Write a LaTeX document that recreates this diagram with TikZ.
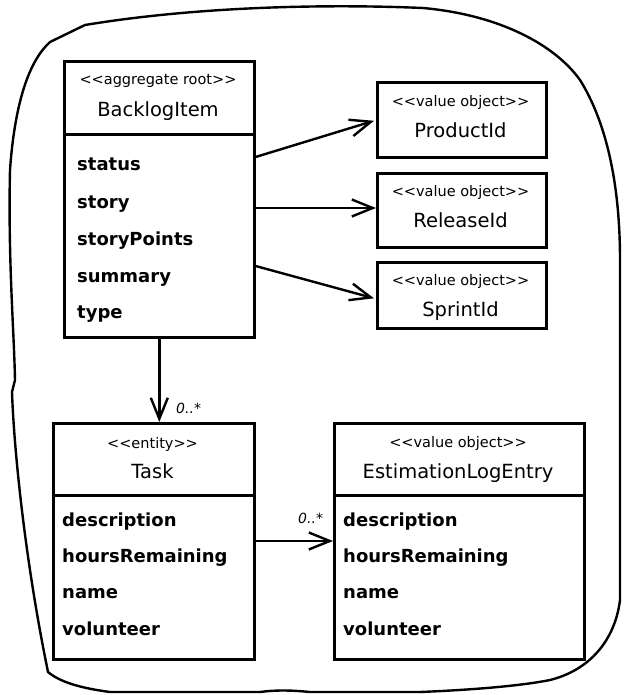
\documentclass[tikz,border=0pt]{standalone}
\usepackage{fontspec}
\setmainfont{DejaVu Sans}
\usetikzlibrary{arrows.meta,calc}
\newcommand\stLL{<\kern0pt<}
\newcommand\stGG{>\kern0pt>}
\newcommand\stfont{\fontsize{14.5}{16}\selectfont}
\newcommand\cnfont{\fontsize{19.5}{22}\selectfont}
\newcommand\atfont{\bfseries\fontsize{18}{20}\selectfont}
\newcommand\mufont{\itshape\fontsize{14}{16}\selectfont}
\begin{document}
\begin{tikzpicture}[x=1pt,y=-1pt,
  box/.style={draw, line width=2.6pt, inner sep=0pt, anchor=north west},
  arr/.style={line width=2.4pt, -{Straight Barb[length=21pt,width=17pt,line width=2.4pt]}},
  stereo/.style={font=\stfont, anchor=base, inner sep=0pt},
  cname/.style={font=\cnfont, anchor=base, inner sep=0pt},
  attr/.style={font=\atfont, anchor=base west, inner sep=0pt},
  mult/.style={font=\mufont, anchor=base west, inner sep=0pt},
  blob/.style={draw, line width=2.4pt, line join=round}]
\useasboundingbox (0,0) rectangle (623,695);
% outer boundary
\draw[blob] (48,672) .. controls (60,682) and (80,688) .. (110,692)
  -- (260,692) .. controls (275,690) and (290,690) .. (310,692)
  -- (420,692) .. controls (470,690) and (520,686) .. (550,680)
  .. controls (590,670) and (615,640) .. (620,600)
  -- (620,260) .. controls (620,180) and (605,120) .. (580,80)
  .. controls (555,45) and (500,15) .. (423,8)
  .. controls (330,4) and (200,6) .. (85,25)
  -- (50,42) .. controls (30,60) and (15,100) .. (10,170)
  .. controls (8,260) and (14,330) .. (15,380)
  -- (12,392) .. controls (14,450) and (25,560) .. (48,672) -- cycle;
% BacklogItem
\node[box, minimum width=190pt, minimum height=73pt] (bih) at (63,60) {};
\node[box, minimum width=190pt, minimum height=203pt] (bib) at (63,133) {};
\node[stereo] (bist) at (158,85) {\stLL aggregate root\stGG};
\node[cname] (bin) at (158,117) {BacklogItem};
\node[attr] (bia1) at (77,171) {status};
\node[attr] (bia2) at (77,208) {story};
\node[attr] (bia3) at (77,245) {storyPoints};
\node[attr] (bia4) at (77,282) {summary};
\node[attr] (bia5) at (77,318) {type};
% value objects
\node[box, minimum width=169pt, minimum height=75pt] (pid) at (376,81) {};
\node[stereo] (pidst) at (460.5,107) {\stLL value object\stGG};
\node[cname] (pidn) at (460.5,138) {ProductId};
\node[box, minimum width=169pt, minimum height=74pt] (rid) at (376,172) {};
\node[stereo] (ridst) at (460.5,196) {\stLL value object\stGG};
\node[cname] (ridn) at (460.5,227) {ReleaseId};
\node[box, minimum width=169pt, minimum height=66pt] (sid) at (376,261) {};
\node[stereo] (sidst) at (460.5,285) {\stLL value object\stGG};
\node[cname] (sidn) at (460.5,316) {SprintId};
% Task
\node[box, minimum width=201pt, minimum height=72pt] (th) at (52,422) {};
\node[box, minimum width=201pt, minimum height=164pt] (tb) at (52,494) {};
\node[stereo] (tst) at (152.5,448) {\stLL entity\stGG};
\node[cname] (tn) at (152.5,478) {Task};
\node[attr] (ta1) at (62,526) {description};
\node[attr] (ta2) at (62,562) {hoursRemaining};
\node[attr] (ta3) at (62,598) {name};
\node[attr] (ta4) at (62,635) {volunteer};
% EstimationLogEntry
\node[box, minimum width=250pt, minimum height=72pt] (eh) at (333,422) {};
\node[box, minimum width=250pt, minimum height=164pt] (eb) at (333,494) {};
\node[stereo] (est) at (458,447) {\stLL value object\stGG};
\node[cname] (en) at (458,478) {EstimationLogEntry};
\node[attr] (ea1) at (343,526) {description};
\node[attr] (ea2) at (343,562) {hoursRemaining};
\node[attr] (ea3) at (343,598) {name};
\node[attr] (ea4) at (343,635) {volunteer};
% connectors
\draw[arr] ($(bib.north east)+(0,24)$) -- ($(pid.west)+(-2,1)$);
\draw[arr] ($(bib.north east)+(0,75)$) coordinate (r0) -- (r0 -| rid.west);
\draw[arr] ($(bib.north east)+(0,133)$) -- ($(sid.west)+(-2,3)$);
\draw[arr] (bib.south) -- (bib.south |- th.north);
\node[mult] (m1) at (176,413) {0..*};
\draw[arr] ($(tb.north east)+(0,47)$) coordinate (t0) -- (t0 -| eb.west);
\node[mult] (m2) at (298,523) {0..*};
\end{tikzpicture}
\end{document}
